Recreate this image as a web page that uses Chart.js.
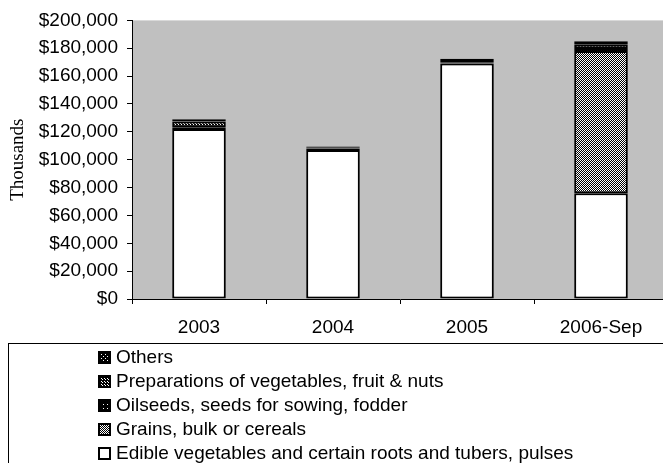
<!DOCTYPE html>
<html>
<head>
<meta charset="utf-8">
<script src="https://cdn.jsdelivr.net/npm/chart.js@4/dist/chart.umd.min.js"></script>
<style>
  body { margin: 0; background: #fff; }
  #wrap { position: relative; width: 663px; height: 463px; overflow: hidden; }
  #chart { position: absolute; left: 0; top: 0; }
  #legend {
    position: absolute; left: 8px; top: 343px; width: 700px; height: 140px;
    border: 1px solid #000; font-family: "Liberation Sans", Arial, sans-serif; font-size: 19px;
  }
  .item { position: absolute; left: 89px; height: 22px; line-height: 22px; white-space: nowrap; }
  .item canvas { vertical-align: -1px; margin-right: 5px; }
</style>
</head>
<body>
<div id="wrap">
  <canvas id="chart" width="668" height="345"></canvas>
  <div id="legend"></div>
</div>
<script>
let categories = ["2003", "2004", "2005", "2006-Sep"];

let edible = [122000, 107000, 169000, 76000];
let grains = [0, 0, 0, 102000];
let oilseeds = [1000, 1000, 1000, 1500];
let preparations = [4500, 1000, 1500, 3000];
let others = [1500, 500, 1000, 2500];

let seriesNames = [
  "Edible vegetables and certain roots and tubers, pulses",
  "Grains, bulk or cereals",
  "Oilseeds, seeds for sowing, fodder",
  "Preparations of vegetables, fruit & nuts",
  "Others"
];

// small bitmap fills, like the old excel patterns
function makePattern(size, bg, fg, cells) {
  let c = document.createElement("canvas");
  c.width = size;
  c.height = size;
  let g = c.getContext("2d");
  g.fillStyle = bg;
  g.fillRect(0, 0, size, size);
  g.fillStyle = fg;
  cells.forEach(([x, y]) => g.fillRect(x, y, 1, 1));
  return g.createPattern(c, "repeat");
}

let ctx = document.getElementById("chart").getContext("2d");

let fills = [
  "#ffffff",
  makePattern(2, "#000000", "#ffffff", [[0, 0], [1, 1]]),
  makePattern(4, "#000000", "#ffffff", [[1, 1]]),
  makePattern(3, "#000000", "#ffffff", [[1, 1], [0, 0]]),
  makePattern(4, "#000000", "#ffffff", [[1, 1], [3, 3]])
];

let values = [edible, grains, oilseeds, preparations, others];

let plotBg = {
  id: "plotBg",
  beforeDraw(chart) {
    let a = chart.chartArea;
    chart.ctx.save();
    chart.ctx.fillStyle = "#c0c0c0";
    chart.ctx.fillRect(a.left, a.top, a.right - a.left, a.bottom - a.top);
    chart.ctx.restore();
  }
};

let chart = new Chart(ctx, {
  type: "bar",
  data: {
    labels: categories,
    datasets: values.map((v, i) => ({
      label: seriesNames[i],
      data: v,
      backgroundColor: fills[i],
      borderColor: "#000000",
      borderWidth: (c) => (c.raw ? 2 : 0),
      borderSkipped: false,
      barPercentage: 0.4,
      categoryPercentage: 1
    }))
  },
  options: {
    responsive: false,
    animation: false,
    layout: { padding: { top: 20, right: 0, left: 0, bottom: 0 } },
    plugins: {
      legend: { display: false },
      tooltip: { enabled: false }
    },
    scales: {
      x: {
        stacked: true,
        grid: {
          offset: true,
          drawOnChartArea: false,
          drawTicks: true,
          tickLength: 5,
          color: "#000000"
        },
        border: { color: "#000000", width: 1 },
        ticks: {
          color: "#000000",
          padding: 12,
          font: { family: "Liberation Sans", size: 19 }
        },
        afterFit(scale) { scale.height = 46; }
      },
      y: {
        stacked: true,
        min: 0,
        max: 200000,
        grid: {
          drawOnChartArea: false,
          drawTicks: true,
          tickLength: 5,
          color: "#000000"
        },
        border: { color: "#000000", width: 1 },
        ticks: {
          stepSize: 20000,
          color: "#000000",
          padding: 9,
          font: { family: "Liberation Sans", size: 19 },
          callback: (v) => "$" + v.toLocaleString("en-US")
        },
        title: {
          display: true,
          text: "Thousands",
          color: "#000000",
          padding: { top: 7, bottom: 0 },
          font: { family: "Liberation Serif", size: 19 }
        },
        afterFit(scale) { scale.width = 132; }
      }
    }
  },
  plugins: [plotBg]
});

// legend, listed top series first
let legend = document.getElementById("legend");
for (let i = values.length - 1; i >= 0; i--) {
  let row = document.createElement("div");
  row.className = "item";
  row.style.top = (2 + (values.length - 1 - i) * 24) + "px";
  let sw = document.createElement("canvas");
  sw.width = 13;
  sw.height = 13;
  let g = sw.getContext("2d");
  g.fillStyle = fills[i];
  g.fillRect(0, 0, 13, 13);
  g.strokeStyle = "#000";
  g.lineWidth = 2;
  g.strokeRect(1, 1, 11, 11);
  row.appendChild(sw);
  row.appendChild(document.createTextNode(seriesNames[i]));
  legend.appendChild(row);
}
</script>
</body>
</html>
